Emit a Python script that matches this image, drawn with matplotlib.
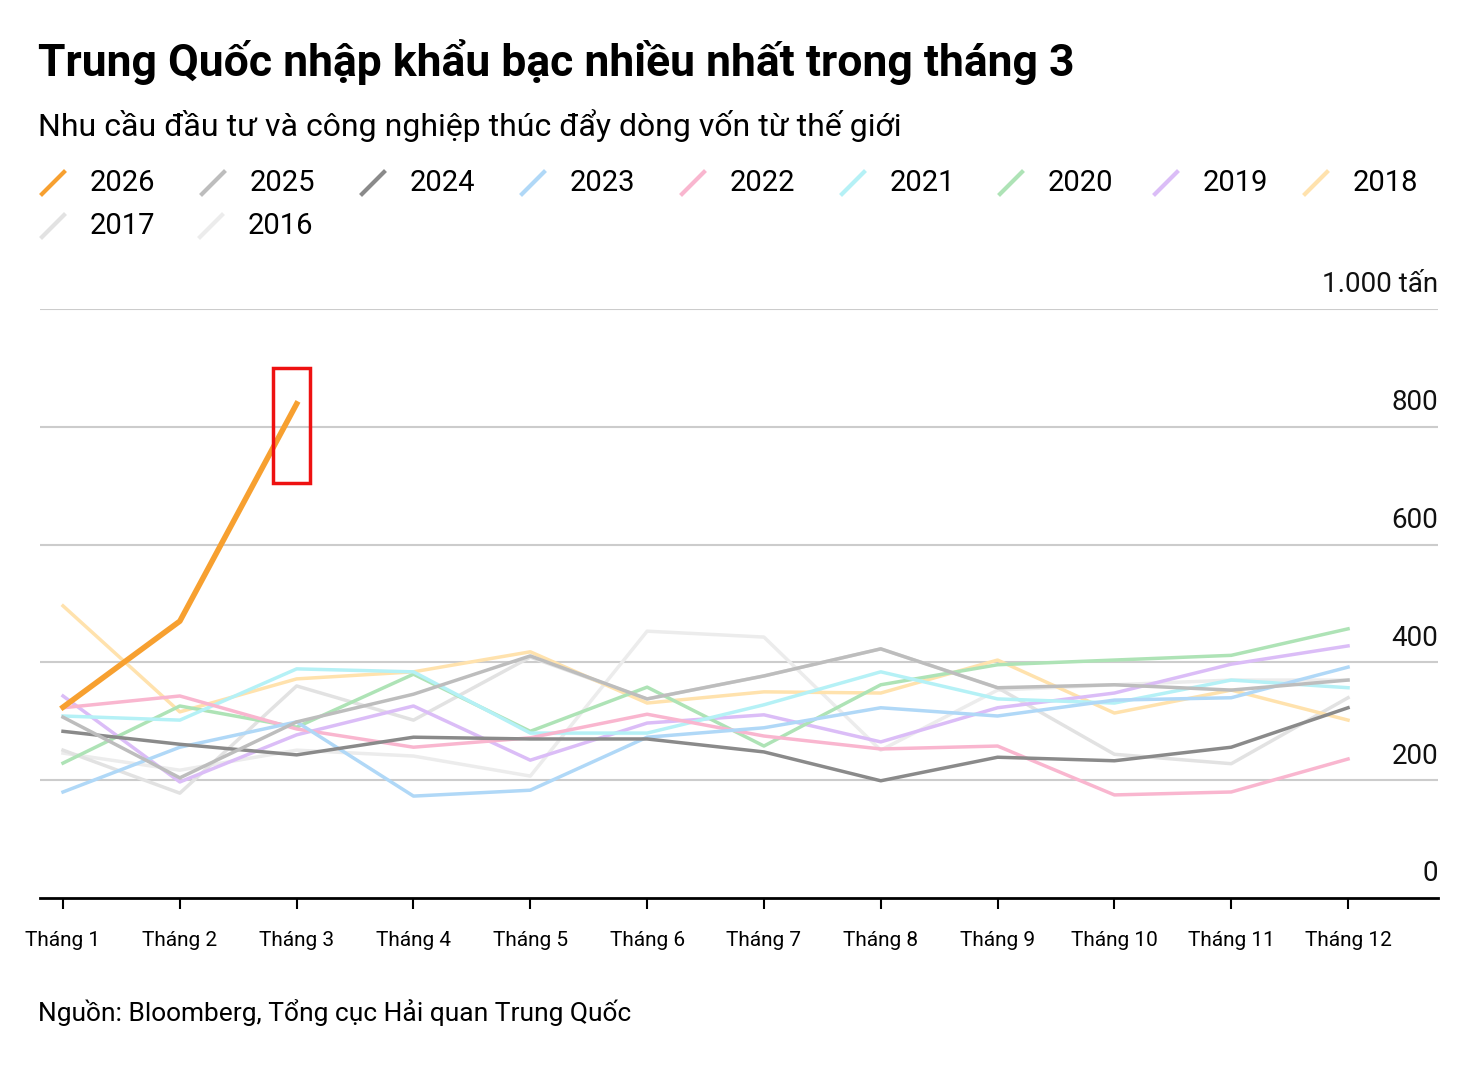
import matplotlib
matplotlib.use("Agg")
import matplotlib.pyplot as plt
from matplotlib.patches import Rectangle
from matplotlib.lines import Line2D

months = ["Tháng %d" % i for i in range(1, 13)]
years = ["2026", "2025", "2024", "2023", "2022", "2021", "2020", "2019", "2018", "2017", "2016"]
colors = ["#f7a030", "#bdbdbd", "#8a8a8a", "#b0d8f7", "#f9b6cf", "#b5f1f6", "#aee3b6", "#dbbdf7", "#ffe2ad", "#e2e2e2", "#ececec"]

v2026 = [324, 470, 839]
v2025 = [307, 204, 299, 346, 411, 338, 377, 423, 357, 362, 353, 370]
v2024 = [283, 261, 243, 273, 270, 270, 248, 199, 239, 233, 256, 323]
v2023 = [180, 256, 299, 173, 183, 273, 289, 323, 309, 336, 340, 392]
v2022 = [323, 343, 287, 256, 272, 312, 275, 253, 258, 175, 180, 236]
v2021 = [309, 302, 389, 384, 280, 280, 328, 384, 338, 331, 370, 357]
v2020 = [229, 326, 290, 380, 283, 358, 258, 362, 396, 404, 412, 457]
v2019 = [343, 197, 277, 326, 234, 297, 311, 265, 323, 348, 397, 428]
v2018 = [496, 316, 372, 384, 418, 331, 350, 348, 404, 314, 353, 302]
v2017 = [251, 178, 360, 302, 409, 338, 377, 423, 357, 244, 228, 340]
v2016 = [246, 217, 251, 241, 207, 453, 443, 251, 353, 362, 370, 370]
series = [v2026, v2025, v2024, v2023, v2022, v2021, v2020, v2019, v2018, v2017, v2016]

plt.rcParams['font.family'] = ['Roboto', 'DejaVu Sans']
fig = plt.figure(figsize=(14.65, 10.73), dpi=100)
ax = fig.add_axes([40/1465, 1-898/1073, (1438-40)/1465, (898-309)/1073])
x = list(range(1, 13))
for vals, c, y in reversed(list(zip(series, colors, years))):
    lw = 4 if y == "2026" else 2.5
    ax.plot(x[:len(vals)], vals, color=c, lw=lw, zorder=10 if y == "2026" else 3)
ax.add_patch(Rectangle((2.8, 705), 0.31, 195, fill=False, ec="#ee1111", lw=2.5, zorder=11))
ax.set_xlim(0.803, 12.77)
ax.set_ylim(0, 1000)
for t in [200, 400, 600, 800, 1000]:
    ax.axhline(t, color="#cccccc", lw=1.5, zorder=1)
    ax.text(12.77, t + 18, ("1.000 tấn" if t == 1000 else str(t)), ha="right", va="bottom", fontsize=20, color="#111")
ax.text(12.77, 18, "0", ha="right", va="bottom", fontsize=20, color="#111")
for s in ["top", "right", "left"]:
    ax.spines[s].set_visible(False)
ax.spines["bottom"].set_linewidth(2)
ax.set_yticks([])
ax.set_xticks(x)
ax.set_xticklabels(months, fontsize=15)
ax.tick_params(axis="x", length=8, width=1.5, pad=16)

fig.text(38/1465, 1-62/1073, "Trung Quốc nhập khẩu bạc nhiều nhất trong tháng 3", fontsize=32, weight="bold", va="center")
fig.text(38/1465, 1-126/1073, "Nhu cầu đầu tư và công nghiệp thúc đẩy dòng vốn từ thế giới", fontsize=23, va="center")
fig.text(38/1465, 1-1013/1073, "Nguồn: Bloomberg, Tổng cục Hải quan Trung Quốc", fontsize=19, va="center")

pos = [(42, 183), (202, 183), (362, 183), (522, 183), (682, 183), (842, 183), (1000, 183), (1155, 183), (1305, 183), (42, 226), (200, 226)]
for (px, py), y, c in zip(pos, years, colors):
    fig.add_artist(Line2D([px/1465, (px+22)/1465], [1-(py+11)/1073, 1-(py-11)/1073], color=c, lw=3))
    fig.text((px+48)/1465, 1-py/1073, y, fontsize=21, va="center")
fig.savefig("out.png", dpi=100, facecolor="white")
